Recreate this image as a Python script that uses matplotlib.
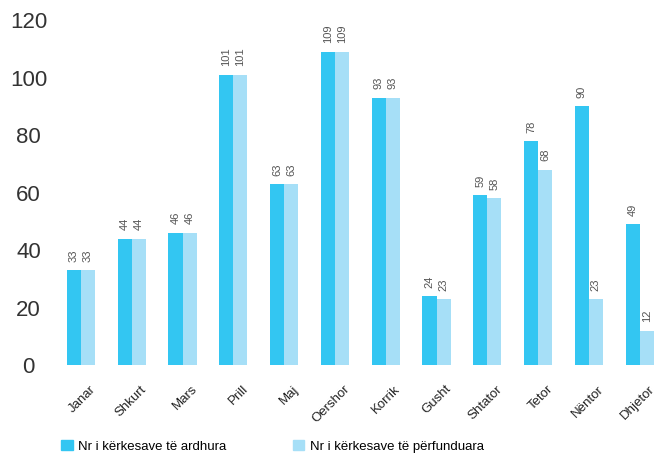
import numpy as np
import matplotlib
matplotlib.use("Agg")
import matplotlib.pyplot as plt
from matplotlib.patches import Patch

plt.rcParams['font.family'] = ['Liberation Sans', 'DejaVu Sans']

months = ['Janar', 'Shkurt', 'Mars', 'Prill', 'Maj', 'Oershor', 'Korrik',
          'Gusht', 'Shtator', 'Tetor', 'Nëntor', 'Dhjetor']
ardhura = [33, 44, 46, 101, 63, 109, 93, 24, 59, 78, 90, 49]
perfunduara = [33, 44, 46, 101, 63, 109, 93, 23, 58, 68, 23, 12]
yticks = [0, 20, 40, 60, 80, 100, 120]
labels = ['Nr i kërkesave të ardhura', 'Nr i kërkesave të përfunduara']

c_dark = '#33c6f2'
c_light = '#a6dff7'

fig = plt.figure(figsize=(6.57, 4.58), dpi=100)
ax = fig.add_axes([0.0837, 0.203, 1 - 0.0837, 0.753])

x = np.arange(len(months))
w = 0.276
b1 = ax.bar(x - w / 2, ardhura, w, color=c_dark)
b2 = ax.bar(x + w / 2, perfunduara, w, color=c_light)

for bars, vals in ((b1, ardhura), (b2, perfunduara)):
    for rect, v in zip(bars, vals):
        ax.annotate(str(v), (rect.get_x() + rect.get_width() / 2, v),
                    xytext=(0, 6), textcoords='offset points',
                    rotation=90, ha='center', va='bottom',
                    fontsize=8, color='#555555', clip_on=False)

ax.set_xlim(-0.51, 11.34)
ax.set_ylim(0, 120)
ax.set_yticks(yticks)
ax.set_yticklabels([str(t) for t in yticks], fontsize=16, color='#333333')
for lbl in ax.get_yticklabels():
    lbl.set_horizontalalignment('center')
ax.tick_params(axis='y', length=0, pad=19)

# month labels end a little right of each group centre
ax.set_xticks(x + 0.17)
ax.set_xticklabels(months, rotation=45, ha='right', rotation_mode='anchor',
                   fontsize=9.5, color='#222222')
ax.tick_params(axis='x', length=0, pad=13)

for s in ax.spines.values():
    s.set_visible(False)

handles = [Patch(color=c_dark), Patch(color=c_light)]
fig.legend(handles, labels, loc='lower left', bbox_to_anchor=(0.075, -0.014),
           ncol=2, frameon=False, fontsize=9.5, handlelength=0.9,
           handleheight=0.9, handletextpad=0.4, columnspacing=5.0)

fig.savefig('out.png', dpi=100)
